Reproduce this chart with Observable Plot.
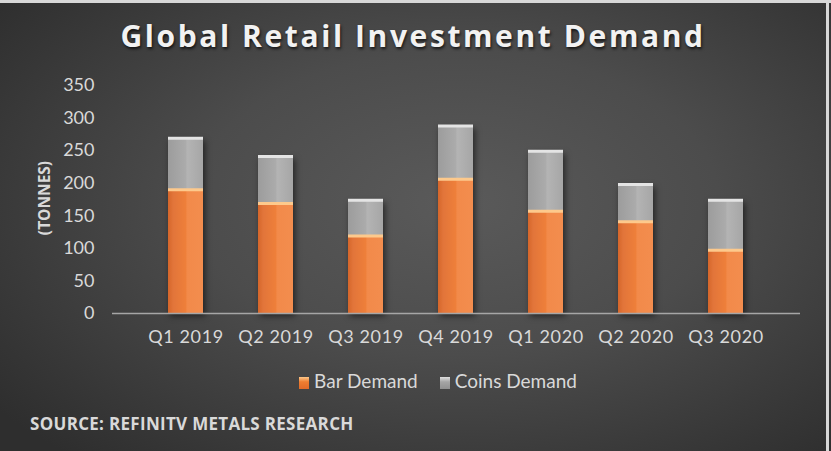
<!DOCTYPE html>
<html><head><meta charset="utf-8">
<script src="https://cdn.jsdelivr.net/npm/d3@7"></script>
<script src="https://cdn.jsdelivr.net/npm/@observablehq/plot@0.6"></script>
<style>
html,body{margin:0;padding:0;background:#2e2e2e;}
#wrap{position:relative;width:831px;height:451px;overflow:hidden;
 background:radial-gradient(ellipse 70% 75% at 55% 45%, #5a5a5a 0%, #4c4c4c 45%, #363636 85%, #2e2e2e 100%);}
#title{position:absolute;top:15px;left:0;width:826px;text-align:center;font-family:"Open Sans",sans-serif;font-weight:700;font-size:30px;letter-spacing:2.6px;color:#f2f2f2;text-shadow:1px 2px 3px rgba(0,0,0,0.7);}
#chart{position:absolute;top:70px;left:0;}
#chart svg text{font-size:18px;fill:#d9d9d9;}
#chart svg g[aria-label="x-axis tick label"] text{letter-spacing:0.6px;}
#ylab{position:absolute;left:44px;top:198px;transform:translate(-50%,-50%) rotate(-90deg);font-family:"Open Sans",sans-serif;font-weight:700;font-size:15.5px;color:#d9d9d9;white-space:nowrap;}
#legend{position:absolute;top:369px;left:0;width:876px;text-align:center;font-family:Lato,sans-serif;font-size:19px;color:#d9d9d9;}
#legend span.sw{display:inline-block;width:10px;height:12px;margin-right:5px;vertical-align:-1px;}
#legend .item{margin:0 11px;}
#source{position:absolute;left:30px;top:412px;font-family:"Open Sans",sans-serif;font-weight:700;font-size:17px;color:#d9d9d9;letter-spacing:0.3px;}
#topline{position:absolute;left:0;top:0;width:831px;height:3px;background:#d8d8d8;}
#rightline{position:absolute;right:2px;top:0;width:3px;height:451px;background:#d8d8d8;}
</style>
</head><body>
<div id="wrap">
 <div id="topline"></div>
 <div id="rightline"></div>
 <div id="title">Global Retail Investment Demand</div>
 <div id="ylab">(TONNES)</div>
 <div id="chart"></div>
 <div id="legend"><span class="item"><span class="sw" style="background:linear-gradient(#fcc88a,#ed7d31 40%,#e06a28)"></span>Bar Demand</span><span class="item"><span class="sw" style="background:linear-gradient(#e0e0e0,#a5a5a5 40%,#909090)"></span>Coins Demand</span></div>
 <div id="source">SOURCE: REFINITV METALS RESEARCH</div>
</div>
<script>
const quarters = ["Q1 2019","Q2 2019","Q3 2019","Q4 2019","Q1 2020","Q2 2020","Q3 2020"];
const barDemand = [190, 169, 119, 206, 157, 141, 97];
const coinsDemand = [79, 72, 55, 82, 92, 57, 77];
const seriesNames = ["Bar Demand", "Coins Demand"];
const yTicks = [0, 50, 100, 150, 200, 250, 300, 350];

const data = [];
quarters.forEach((q, i) => {
  data.push({quarter: q, series: seriesNames[0], value: barDemand[i]});
  data.push({quarter: q, series: seriesNames[1], value: coinsDemand[i]});
});

const svg = Plot.plot({
  width: 831,
  height: 280,
  marginTop: 15,
  marginBottom: 37,
  marginLeft: 112,
  marginRight: 31,
  style: {background: "transparent", color: "#d9d9d9", fontFamily: "Lato, sans-serif", fontSize: "18px", overflow: "visible"},
  x: {domain: quarters, padding: 0.61, label: null, tickSize: 0, tickPadding: 17},
  y: {domain: [0, 350], ticks: yTicks, label: null, tickSize: 0, tickPadding: 18},
  color: {domain: seriesNames, range: ["url(#gOrange)", "url(#gGray)"]},
  marks: [
    Plot.barY(data, Plot.stackY({x: "quarter", y: "value", fill: "series", className: "bars"})),
    Plot.tickY(data, Plot.stackY2({x: "quarter", y: "value", stroke: d => d.series === seriesNames[0] ? "#fdc98c" : "#e4e4e4", strokeWidth: 3})),
    Plot.ruleY([0], {stroke: "#a6a6a6", strokeWidth: 1.5})
  ]
});

const ns = "http://www.w3.org/2000/svg";
const defs = document.createElementNS(ns, "defs");
defs.innerHTML = `
<linearGradient id="gOrange" x1="0" x2="1" y1="0" y2="0">
  <stop offset="0" stop-color="#d5662a"/>
  <stop offset="0.15" stop-color="#e2753a"/>
  <stop offset="0.5" stop-color="#ee7f3a"/>
  <stop offset="0.55" stop-color="#f28a4a"/>
  <stop offset="1" stop-color="#f38d4e"/>
</linearGradient>
<linearGradient id="gGray" x1="0" x2="1" y1="0" y2="0">
  <stop offset="0" stop-color="#9c9c9c"/>
  <stop offset="0.5" stop-color="#ababab"/>
  <stop offset="0.55" stop-color="#b4b4b4"/>
  <stop offset="1" stop-color="#a6a6a6"/>
</linearGradient>`;
svg.insertBefore(defs, svg.firstChild);
const bars = svg.querySelector(".bars");
if (bars) bars.style.filter = "drop-shadow(2px 3px 3px rgba(0,0,0,0.55))";
document.getElementById("chart").appendChild(svg);
</script>
</body></html>
